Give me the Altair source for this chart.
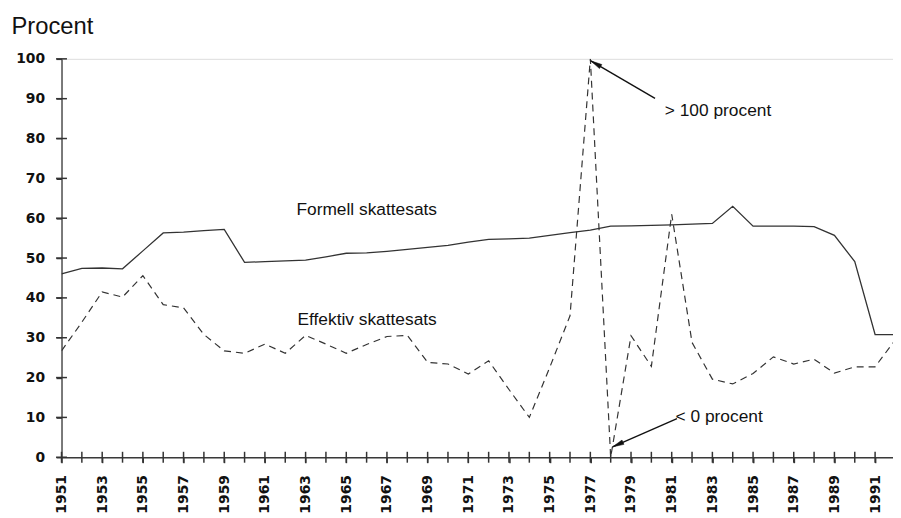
import altair as alt
import pandas as pd

years = list(range(1951, 1993))
formell = [46.0, 47.4, 47.5, 47.3, 51.8, 56.3, 56.5, 56.9, 57.2, 48.9,
           49.1, 49.3, 49.5, 50.3, 51.2, 51.3, 51.7, 52.2, 52.7, 53.2,
           54.0, 54.7, 54.8, 55.0, 55.7, 56.4, 57.0, 58.0, 58.1, 58.2,
           58.3, 58.5, 58.7, 63.0, 58.0, 58.0, 58.0, 57.9, 55.7, 49.1,
           30.8, 30.8]
effektiv = [26.7, 33.9, 41.5, 40.2, 45.6, 38.3, 37.5, 30.8, 26.7, 26.1,
            28.4, 26.1, 30.6, 28.4, 26.1, 28.3, 30.3, 30.6, 23.8, 23.4,
            20.9, 24.2, 17.0, 10.0, 22.5, 35.5, 100.0, 0.0, 30.5, 22.8,
            61.0, 28.8, 19.6, 18.4, 21.0, 25.2, 23.4, 24.6, 21.1, 22.7,
            22.7, 29.5]

y_ticks = [0.0, 10.0, 20.0, 30.0, 40.0, 50.0, 60.0, 70.0, 80.0, 90.0, 100.0]
x_tick_years = [float(y) for y in range(1951, 1992)]

label_texts = ["Formell skattesats", "Effektiv skattesats", "> 100 procent", "< 0 procent"]
label_years = [1962.55, 1962.6, 1980.66, 1981.19]
label_values = [60.9, 33.1, 85.6, 8.9]

arrow_from_year = [1980.18, 1981.26]
arrow_from_val = [90.1, 9.7]
arrow_to_year = [1977.02, 1978.09]
arrow_to_val = [99.5, 2.6]
arrow_angle = [300, 246]

XMIN, XMAX = 1951, 1991.88
W, H = 839, 402
# half tick length (5.5 px) expressed in data units of each axis
HX = 5.5 * (XMAX - XMIN) / W
HY = 5.5 * 100 / H

df = pd.DataFrame({"year": years, "formell": formell, "effektiv": effektiv})
labels_df = pd.DataFrame({"text": label_texts, "year": label_years, "value": label_values})
arrows_df = pd.DataFrame({"x": arrow_from_year, "y": arrow_from_val,
                          "x2": arrow_to_year, "y2": arrow_to_val, "angle": arrow_angle})
yt_df = pd.DataFrame({"tv": y_ticks, "t0": [XMIN - HX] * len(y_ticks),
                      "t1": [XMIN + HX] * len(y_ticks)})
xt_df = pd.DataFrame({"ty": x_tick_years, "u0": [-HY] * len(x_tick_years),
                      "u1": [HY] * len(x_tick_years)})

xscale = alt.Scale(domain=[XMIN, XMAX], nice=False, zero=False)
yscale = alt.Scale(domain=[0, 100], nice=False)

TICKFONT = "DejaVu Sans"
AXC = "#3a3a3a"
TKC = "#333333"
TKW = 1.5

x_axis = alt.Axis(values=x_tick_years, format="d",
                  labelExpr="datum.value % 2 == 1 ? datum.label : ''",
                  labelAngle=270, labelAlign="right",
                  labelBaseline="middle", labelPadding=12, ticks=True, tickSize=5.5,
                  tickColor=TKC, tickWidth=TKW, grid=False,
                  domainColor=AXC, domainWidth=1.3, labelFont=TICKFONT, labelFontSize=14,
                  labelFontWeight="bold", labelColor="#111111", title=None,
                  labelOverlap=False, labelBound=False, labelFlush=False)
y_axis = alt.Axis(values=y_ticks, format="d", ticks=True, tickSize=5.5, tickColor=TKC,
                  tickWidth=TKW, grid=False, labelPadding=11.5,
                  domainColor=AXC, domainWidth=1.3, labelFont=TICKFONT, labelFontSize=14,
                  labelFontWeight="bold", labelColor="#111111",
                  title="Procent", titleAngle=0, titleAlign="left", titleBaseline="alphabetic",
                  titleX=-51, titleY=-26, titleFont="Liberation Sans", titleFontSize=24,
                  titleFontWeight="normal", titleColor="#111111")

base = alt.Chart(df)
line_f = base.mark_line(color="#333333", strokeWidth=1.3, clip=True).encode(
    x=alt.X("year:Q", scale=xscale, axis=x_axis),
    y=alt.Y("formell:Q", scale=yscale, axis=y_axis),
)
line_e = base.mark_line(color="#333333", strokeWidth=1.2, strokeDash=[7, 5], clip=True).encode(
    x=alt.X("year:Q", scale=xscale),
    y=alt.Y("effektiv:Q", scale=yscale),
)

yticks = alt.Chart(yt_df).mark_rule(color=TKC, strokeWidth=TKW).encode(
    x=alt.X("t0:Q", scale=xscale), x2="t1:Q", y=alt.Y("tv:Q", scale=yscale), y2="tv:Q")
xticks = alt.Chart(xt_df).mark_rule(color=TKC, strokeWidth=TKW).encode(
    x=alt.X("ty:Q", scale=xscale), x2="ty:Q", y=alt.Y("u0:Q", scale=yscale), y2="u1:Q")

texts = alt.Chart(labels_df).mark_text(align="left", baseline="alphabetic", font="Liberation Sans",
                                       fontSize=17.5, color="#111111").encode(
    x=alt.X("year:Q", scale=xscale), y=alt.Y("value:Q", scale=yscale), text="text:N")

arrow_lines = alt.Chart(arrows_df).mark_rule(color="#111111", strokeWidth=1.4).encode(
    x=alt.X("x:Q", scale=xscale), y=alt.Y("y:Q", scale=yscale),
    x2="x2:Q", y2="y2:Q")
arrow_heads = alt.Chart(arrows_df).mark_point(shape="M0,0L-0.45,2.2L0.45,2.2Z", filled=True,
                                             fill="#111111", stroke="#111111", strokeWidth=0.5,
                                             size=110, opacity=1).encode(
    x=alt.X("x2:Q", scale=xscale), y=alt.Y("y2:Q", scale=yscale),
    angle=alt.Angle("angle:Q", scale=None))

chart = alt.layer(line_f, line_e, yticks, xticks, texts, arrow_lines, arrow_heads).properties(
    width=W, height=H,
    autosize=alt.AutoSizeParams(type="none"),
    padding={"left": 54, "top": 49, "right": 0, "bottom": 59},
).configure_view(stroke=None).configure(background="white")

chart.save("out.html", embed_options={"renderer": "svg", "actions": False})
